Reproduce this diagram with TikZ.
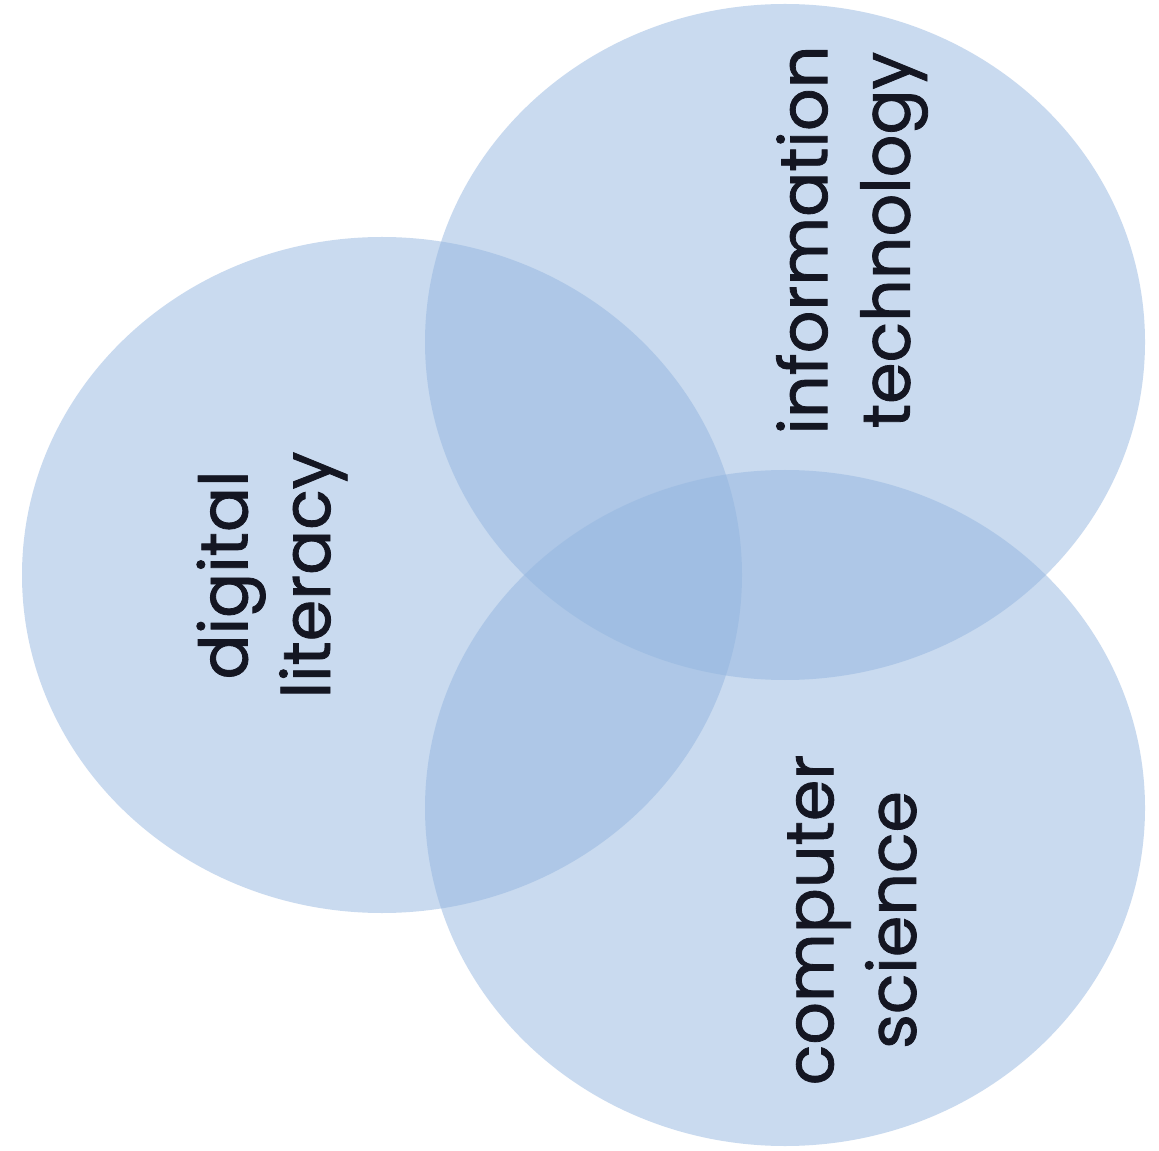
\documentclass[tikz,border=0pt]{standalone}
\usepackage{fontspec}
\setmainfont{Poppins}
\newfontfamily\labfont{Poppins}[FakeBold=1.2]
\definecolor{vennblue}{RGB}{148,182,224}
\definecolor{labelink}{RGB}{20,22,34}
\begin{document}
\begin{tikzpicture}[x=0.02cm,y=-0.02cm,
  venn/.style={fill=vennblue,fill opacity=0.5,draw=none},
  lab/.style={text=labelink,rotate=90,align=center,inner sep=0pt,
    font=\labfont\fontsize{38}{47}\selectfont}]
\useasboundingbox (0,0) rectangle (1159,1151);
\fill[white] (0,0) rectangle (1159,1151);
\fill[venn] (382,575) ellipse [x radius=360, y radius=338];
\fill[venn] (785,342) ellipse [x radius=360, y radius=338];
\fill[venn] (785,808) ellipse [x radius=360, y radius=338];
\node[lab] (dl) at (272,575) {digital\\literacy};
\node[lab] (it) at (852,240) {information\\technology};
\node[lab] (cs) at (852,920) {computer\\science};
\end{tikzpicture}
\end{document}
